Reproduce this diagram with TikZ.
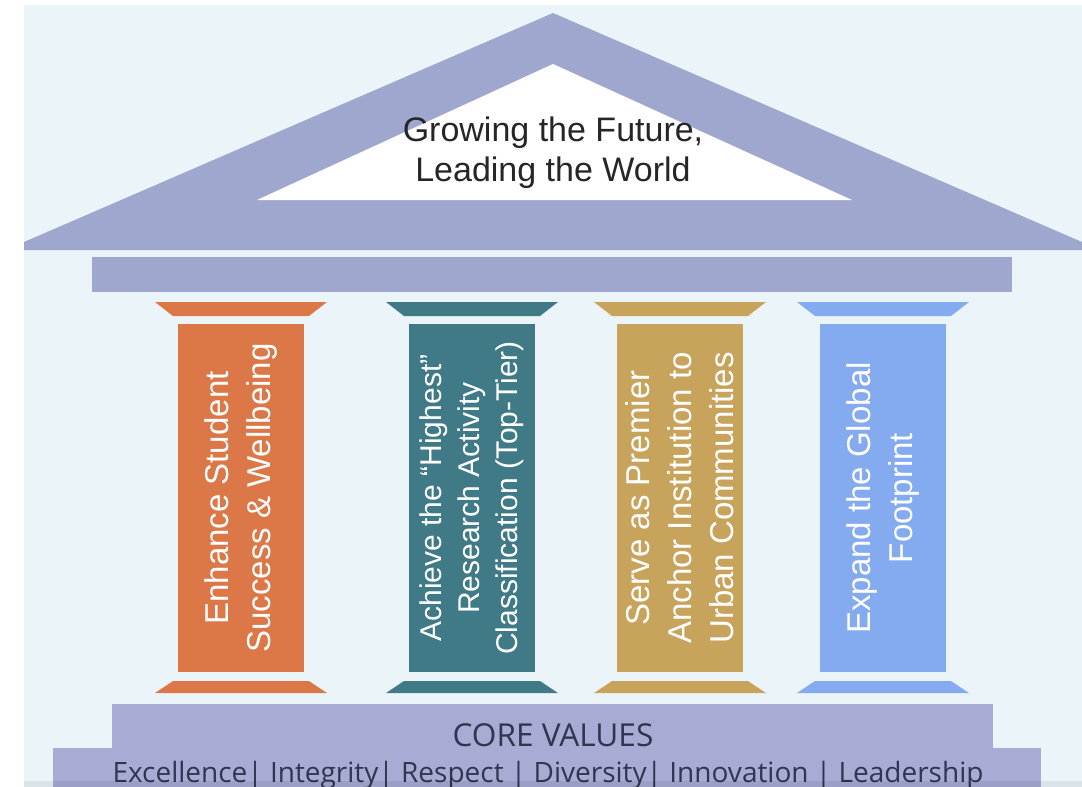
\documentclass[tikz,border=0pt]{standalone}
\usepackage{fontspec}
\setmainfont{Liberation Sans}
\newfontfamily\valuesfont{Open Sans}
\usepackage{xcolor}
\usepackage{tikz}

\definecolor{slate}{HTML}{9FA7CF}
\definecolor{plinth}{HTML}{A8ACD4}
\definecolor{sky}{HTML}{EBF5F9}
\definecolor{enhance}{HTML}{DC7848}
\definecolor{achieve}{HTML}{3F7A86}
\definecolor{serve}{HTML}{C8A35C}
\definecolor{expand}{HTML}{84ABF0}
\definecolor{inkgray}{HTML}{262626}
\definecolor{navy}{HTML}{2E3650}

\begin{document}
\begin{tikzpicture}[x=0.5pt, y=-0.5pt,
  shaft/.style={rectangle, rotate=90, minimum width=174pt, minimum height=63pt,
                inner sep=0pt, text=white, align=center,
                font=\fontsize{16.5}{21}\selectfont},
  motto/.style={align=center, text=inkgray, font=\fontsize{17}{20}\selectfont},
  corehead/.style={text=navy, font=\valuesfont\fontsize{15.8}{18}\selectfont},
  corelist/.style={text=navy, font=\valuesfont\fontsize{14}{16}\selectfont}
]
\useasboundingbox (0,0) rectangle (1082,787);
\fill[white] (0,0) rectangle (1082,787);
\fill[sky] (24,5) rectangle (1082,787);

% roof and architrave
\fill[slate] (24,242) -- (553,13) -- (1082,242) -- (1082,250) -- (24,250) -- cycle;
\fill[white] (553,64) -- (852,200) -- (257,200) -- cycle;
\node[motto] (motto) at (553,153) {Growing the Future,\\Leading the World};
\fill[slate] (92,257) rectangle (1012,292);

% capitals and bases
\foreach \cx/\col in {241/enhance, 472/achieve, 680/serve, 883/expand} {
  \fill[\col] (\cx-86,302) -- (\cx+86,302) -- (\cx+68,316) -- (\cx-68,316) -- cycle;
  \fill[\col] (\cx-68,681) -- (\cx+68,681) -- (\cx+86,693) -- (\cx-86,693) -- cycle;
}

% pillars
\node[shaft, fill=enhance] (student) at (241,498) {Enhance Student\\Success \& Wellbeing};
\node[shaft, fill=achieve, font=\fontsize{15}{19}\selectfont] (research) at (472,498)
  {Achieve the “Highest”\\Research Activity\\Classification (Top-Tier)};
\node[shaft, fill=serve] (anchor) at (680,498) {Serve as Premier\\Anchor Institution to\\Urban Communities};
\node[shaft, fill=expand] (global) at (883,498) {Expand the Global\\Footprint};

% steps
\fill[plinth] (112,704) rectangle (993,787);
\fill[plinth] (53,748) rectangle (1041,787);
\node[corehead] (core) at (553,735) {CORE VALUES};
\node[corelist] (values) at (548,775)
  {Excellence| Integrity| Respect | Diversity| Innovation | Leadership};
\fill[black, opacity=0.07] (24,781) rectangle (1082,787);
\end{tikzpicture}
\end{document}
